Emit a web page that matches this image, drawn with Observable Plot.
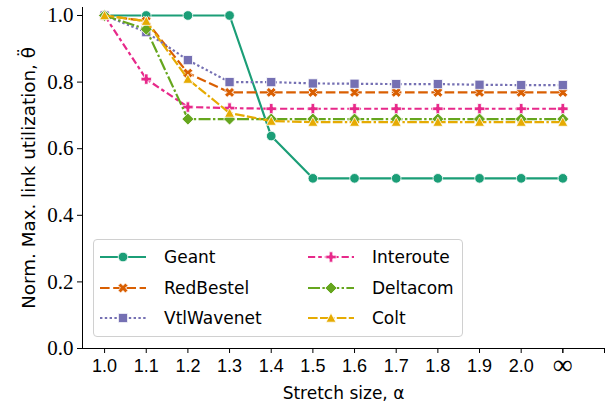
<!DOCTYPE html>
<html><head><meta charset="utf-8">
<script src="https://cdn.jsdelivr.net/npm/d3@7"></script>
<script src="https://cdn.jsdelivr.net/npm/@observablehq/plot@0.6"></script>
<style>
body{margin:0;background:#fff;}
#wrap{position:relative;width:613px;height:404px;}
#legend{position:absolute;left:93px;top:239px;width:368px;height:96px;border:1px solid #d0d0d0;border-radius:4px;background:rgba(255,255,255,0.8);font-family:"DejaVu Sans";font-size:17px;}
.item{position:absolute;height:24px;display:flex;align-items:center;}
.item span{margin-left:18px;color:#000;}
</style></head><body><div id="wrap"></div>
<script>
// ---- data ----
const xLabels = ["1.0","1.1","1.2","1.3","1.4","1.5","1.6","1.7","1.8","1.9","2.0","∞"];
const seriesNames = ["Geant","RedBestel","VtlWavenet","Interoute","Deltacom","Colt"];
const geant      = [1.0, 1.0,   1.0,   1.0,   0.638, 0.511, 0.511, 0.511, 0.511, 0.511, 0.511, 0.511];
const redBestel  = [1.0, 0.983, 0.827, 0.769, 0.769, 0.769, 0.769, 0.769, 0.769, 0.769, 0.769, 0.769];
const vtlWavenet = [1.0, 0.950, 0.866, 0.800, 0.800, 0.796, 0.795, 0.794, 0.794, 0.792, 0.791, 0.791];
const interoute  = [1.0, 0.809, 0.725, 0.722, 0.720, 0.720, 0.720, 0.720, 0.720, 0.720, 0.720, 0.720];
const deltacom   = [1.0, 0.959, 0.689, 0.689, 0.689, 0.689, 0.689, 0.689, 0.689, 0.689, 0.689, 0.689];
const colt       = [1.0, 0.983, 0.809, 0.707, 0.683, 0.680, 0.680, 0.680, 0.680, 0.680, 0.680, 0.680];
const yTicks = [0, 0.2, 0.4, 0.6, 0.8, 1.0];

// ---- styles ----
const seriesValues = [geant, redBestel, vtlWavenet, interoute, deltacom, colt];
const colors = ["#1b9e77","#d95f02","#7570b3","#e7298a","#66a61e","#e6ab02"];
const dashes = [null,"9.6,3.6","2.4,2.4","7.2,3,3.6,3","12,2.4,2.4,2.4","9.6,2.4,9.6,2.4,2.4,2.4"];

function poly(pts){ return {draw(ctx){ ctx.moveTo(pts[0][0],pts[0][1]); for(const p of pts.slice(1)) ctx.lineTo(p[0],p[1]); ctx.closePath(); }}; }
function rot(pts, a){ const c=Math.cos(a), s=Math.sin(a); return pts.map(([x,y])=>[x*c-y*s, x*s+y*c]); }
const pa=1.8, pb=5.2;
const plusPts = [[-pb,-pa],[-pa,-pa],[-pa,-pb],[pa,-pb],[pa,-pa],[pb,-pa],[pb,pa],[pa,pa],[pa,pb],[-pa,pb],[-pa,pa],[-pb,pa]];
const symCircle = {draw(ctx){ ctx.moveTo(4.8,0); ctx.arc(0,0,4.8,0,2*Math.PI); ctx.closePath(); }};
const symX = poly(rot(plusPts, Math.PI/4));
const symSquare = poly([[-4.6,-4.6],[4.6,-4.6],[4.6,4.6],[-4.6,4.6]]);
const symPlus = poly(plusPts);
const symDiamond = poly([[0,-6],[6,0],[0,6],[-6,0]]);
const symTriangle = poly([[0,-5],[5,4.2],[-5,4.2]]);
const symbols = [symCircle, symX, symSquare, symPlus, symDiamond, symTriangle];

const xDomain = [-0.53, 12];

const seriesMarks = seriesValues.flatMap((vals, k) => {
  const data = vals.map((v, i) => ({x: i, y: v}));
  return [
    Plot.line(data, {x: "x", y: "y", stroke: colors[k], strokeWidth: 2.2, strokeDasharray: dashes[k], strokeLinecap: "butt"}),
    Plot.dot(data, {x: "x", y: "y", symbol: symbols[k], fill: colors[k], stroke: "white", strokeWidth: 0.8})
  ];
});

const infIndex = xLabels.length - 1;
const plot = Plot.plot({
  width: 613, height: 404,
  marginLeft: 82, marginRight: 9, marginTop: 7, marginBottom: 56,
  style: {fontFamily: "DejaVu Sans", fontSize: "17px", color: "black", background: "white"},
  x: {type: "linear", domain: xDomain},
  y: {domain: [0, 1.024]},
  marks: [
    Plot.axisX({ticks: d3.range(13), tickFormat: i => (i < infIndex ? xLabels[i] : ""), tickSize: 5, tickPadding: 6, label: null, fontFamily: "Liberation Sans", fontSize: 18}),
    Plot.axisX({ticks: [infIndex], tickFormat: i => xLabels[i], tickSize: 5, tickPadding: 1, label: null, fontFamily: "Liberation Serif", fontSize: 28}),
    Plot.axisX({ticks: [], label: "Stretch size, α", labelAnchor: "center", labelArrow: "none", labelOffset: 50}),
    Plot.axisY({ticks: yTicks, tickFormat: d3.format(".1f"), tickSize: 5, tickPadding: 4, label: null, fontFamily: "Liberation Serif", fontSize: 21}),
    Plot.axisY({ticks: [], label: "Norm. Max. link utilization, θ̈", labelAnchor: "center", labelArrow: "none", labelOffset: 61, fontSize: 18.3}),
    Plot.ruleY([0], {stroke: "black", strokeWidth: 1}),
    Plot.ruleX([xDomain[0]], {stroke: "black", strokeWidth: 1}),
    ...seriesMarks
  ]
});
const wrap = document.getElementById("wrap");
wrap.appendChild(plot);

// ---- legend ----
const legend = document.createElement("div");
legend.id = "legend";
wrap.appendChild(legend);
const rowY = [5, 36, 66];
const colX = [6, 214];
seriesNames.forEach((name, k) => {
  const col = Math.floor(k / 3), row = k % 3;
  const item = document.createElement("div");
  item.className = "item";
  item.style.left = colX[col] + "px";
  item.style.top = rowY[row] + "px";
  const p = d3.path(); symbols[k].draw(p);
  item.innerHTML = `<svg width="46" height="20"><line x1="0" y1="10" x2="46" y2="10" stroke="${colors[k]}" stroke-width="2.2" ${dashes[k] ? `stroke-dasharray="${dashes[k]}"` : ""}/><path transform="translate(23,10)" d="${p.toString()}" fill="${colors[k]}" stroke="white" stroke-width="0.8"/></svg><span>${name}</span>`;
  legend.appendChild(item);
});
</script>
</body></html>
